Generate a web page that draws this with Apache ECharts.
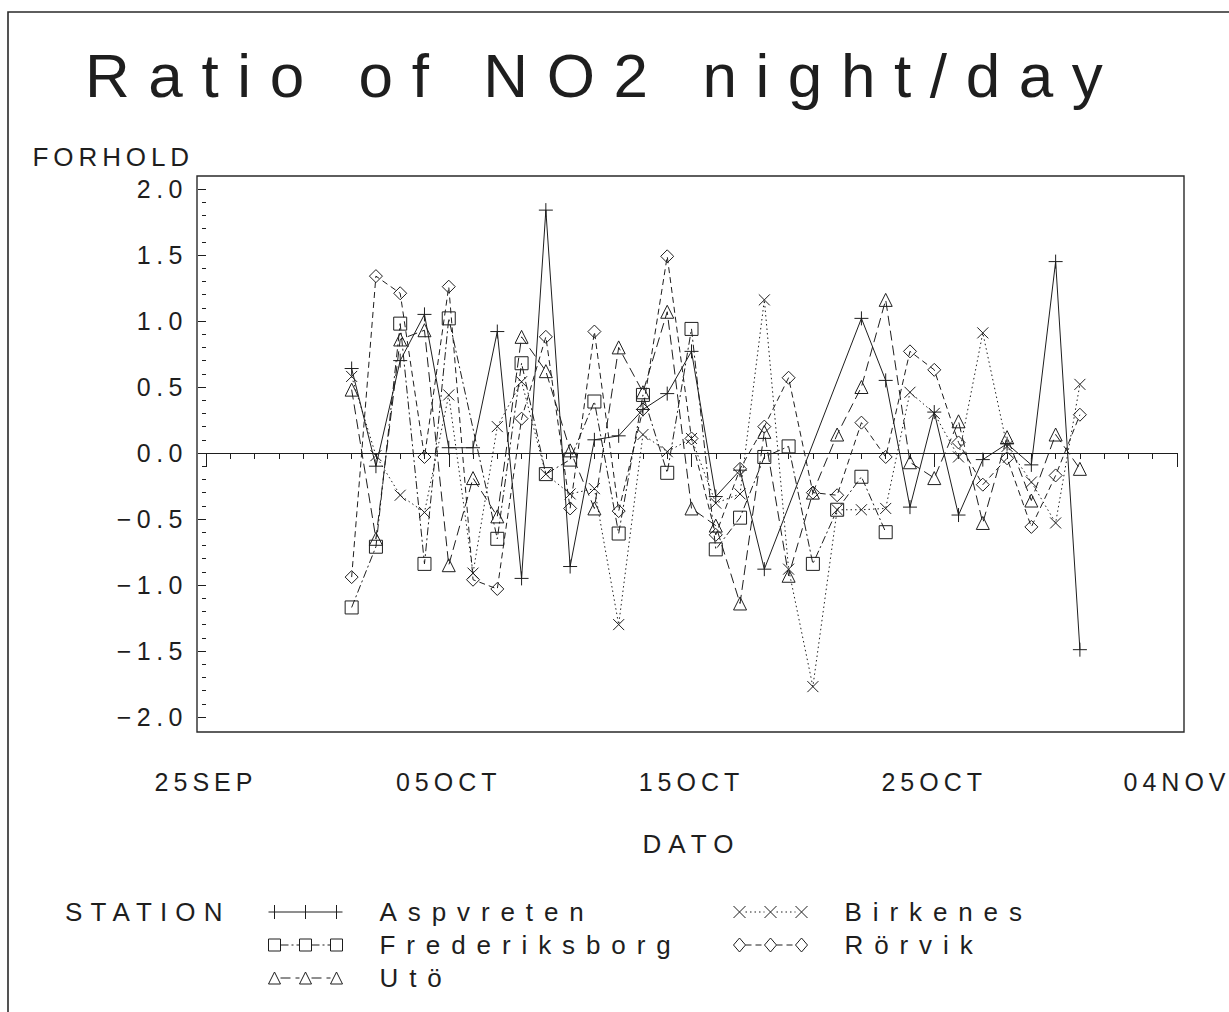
<!DOCTYPE html>
<html>
<head>
<meta charset="utf-8">
<script src="https://cdn.jsdelivr.net/npm/echarts@6/dist/echarts.min.js"></script>
<style>
html,body{margin:0;padding:0;background:#fff;}
#c{width:1229px;height:1012px;}
</style>
</head>
<body>
<div id="c"></div>
<script>
// ---------------- data ----------------
const titleText = 'Ratio of NO2 night/day';
const yName = 'FORHOLD';
const xName = 'DATO';
const legendTitle = 'STATION';
// day offset from 25SEP (01OCT = 6 ... 31OCT = 36)
const days = [6,7,8,9,10,11,12,13,14,15,16,17,18,19,20,21,22,23,24,25,26,27,28,29,30,31,32,33,34,35,36];
const xTickLabels = ['25SEP','05OCT','15OCT','25OCT','04NOV'];

const aspvreten     = [0.64,-0.10,0.70,1.05,0.04,0.04,0.92,-0.95,1.84,-0.86,0.10,0.13,0.33,0.45,0.77,-0.33,-0.13,-0.88,null,null,null,1.02,0.55,-0.41,0.31,-0.47,-0.05,0.07,-0.09,1.45,-1.49];
const frederiksborg = [-1.17,-0.71,0.98,-0.84,1.02,null,-0.65,0.68,-0.16,-0.05,0.39,-0.61,0.44,-0.15,0.94,-0.73,-0.49,-0.03,0.05,-0.84,-0.43,-0.18,-0.60,null,null,null,null,null,null,null,null];
const birkenes      = [0.58,-0.02,-0.32,-0.45,0.44,-0.91,0.20,0.54,-0.16,-0.31,-0.27,-1.30,0.14,0.01,0.11,-0.38,-0.31,1.16,-0.88,-1.77,-0.43,-0.43,-0.42,0.46,0.30,-0.03,0.91,0.05,-0.22,-0.53,0.52];
const rorvik        = [-0.94,1.34,1.21,-0.03,1.26,-0.96,-1.03,0.26,0.88,-0.42,0.92,-0.44,0.33,1.49,0.11,-0.62,-0.12,0.20,0.57,-0.30,-0.32,0.23,-0.03,0.77,0.63,0.08,-0.24,-0.04,-0.56,-0.17,0.29];
const uto           = [0.48,-0.65,0.86,0.93,-0.85,-0.19,-0.48,0.88,0.62,0.02,-0.42,0.80,0.46,1.07,-0.42,-0.55,-1.14,0.16,-0.93,-0.30,0.14,0.50,1.16,-0.07,-0.19,0.24,-0.53,0.12,-0.36,0.14,-0.12];

const stationNames = ['Aspvreten','Birkenes','Frederiksborg','Rörvik','Utö'];

// ---------------- styling ----------------
const INK = '#1e1e1e';
const FONT = "'Liberation Sans', Arial, sans-serif";

function dashes(x0, x1, y, pattern){
  let s = '', x = x0, k = 0;
  while (x < x1 - 0.01) {
    const len = pattern[k % pattern.length];
    const e = Math.min(x + len, x1);
    if (k % 2 === 0) s += 'M' + x.toFixed(1) + ',' + y + 'L' + e.toFixed(1) + ',' + y;
    x = e; k++;
  }
  return s;
}
const C = [6, 37, 68];
function between(pattern){ return dashes(12, 31, 7, pattern) + dashes(43, 62, 7, pattern); }
const DASH_FRED = [8, 3, 2, 3];
const DASH_BIRK = [1.5, 3];
const DASH_ROR = [6, 4];
const DASH_UTO = [10, 5];
const iconPlus = 'path://M0,7L74,7' + C.map(c => 'M'+c+',0L'+c+',14').join('');
const iconCross = 'path://' + C.map(c => 'M'+(c-6)+',1L'+(c+6)+',13M'+(c+6)+',1L'+(c-6)+',13').join('') + between(DASH_BIRK);
const iconSquare = 'path://' + C.map(c => 'M'+(c-6)+',1L'+(c+6)+',1L'+(c+6)+',13L'+(c-6)+',13Z').join('') + between(DASH_FRED);
const iconDiamond = 'path://' + C.map(c => 'M'+c+',0L'+(c+6)+',7L'+c+',14L'+(c-6)+',7Z').join('') + between(DASH_ROR);
const iconTri = 'path://' + C.map(c => 'M'+(c-6)+',13L'+c+',1L'+(c+6)+',13Z').join('') + between(DASH_UTO);

const SYM_PLUS = 'path://M5,0L5,10M0,5L10,5';
const SYM_CROSS = 'path://M0,0L10,10M10,0L0,10';

function mkSeries(name, values, symbol, size, dash, extra){
  const s = {
    name: name, type: 'line',
    data: days.map((d, i) => [d, values[i]]),
    symbol: symbol, symbolSize: size, showAllSymbol: true, connectNulls: true,
    itemStyle: { color: 'transparent', borderColor: INK, borderWidth: 1 },
    lineStyle: { color: INK, width: 1, type: dash },
    emphasis: { disabled: true },
    silent: true
  };
  return Object.assign(s, extra || {});
}

const legendCommon = {
  orient: 'vertical', top: 899, itemWidth: 74, itemHeight: 14, itemGap: 7,
  padding: 0, selectedMode: false, symbolKeepAspect: true,
  itemStyle: { color: 'transparent', borderColor: INK, borderWidth: 1 },
  textStyle: { fontSize: 26, fontFamily: FONT, color: INK, padding: [0, 0, 0, 32] }
};

const option = {
  animation: false,
  backgroundColor: '#ffffff',
  textStyle: { fontFamily: FONT, color: INK },
  title: [
    { text: titleText, left: 85, top: 44, padding: 0,
      textStyle: { fontSize: 62, fontWeight: 'normal', fontFamily: FONT, color: INK } },
    { text: legendTitle, left: 65, top: 899, padding: 0,
      textStyle: { fontSize: 26, fontWeight: 'normal', fontFamily: FONT, color: INK } }
  ],
  grid: { left: 206, right: 52, top: 189, bottom: 295 },
  xAxis: {
    type: 'value', min: 0, max: 40, interval: 10, offset: 15,
    name: xName, nameLocation: 'middle', nameGap: 99,
    nameTextStyle: { fontSize: 26, color: INK, fontFamily: FONT },
    axisLine: { show: true, lineStyle: { color: INK, width: 1 } },
    axisTick: { show: true, length: 14, lineStyle: { color: INK, width: 1 } },
    minorTick: { show: true, splitNumber: 10, length: 6, lineStyle: { color: INK, width: 1 } },
    axisLabel: { fontSize: 25, margin: 37, color: INK, fontFamily: FONT, showMinLabel: true, showMaxLabel: true,
      formatter: v => xTickLabels[Math.round(v / 10)] },
    splitLine: { show: false }
  },
  yAxis: {
    type: 'value', min: -2, max: 2, interval: 0.5, offset: 9,
    name: yName, nameLocation: 'end', nameGap: 32,
    nameTextStyle: { fontSize: 26, color: INK, fontFamily: FONT, align: 'right', verticalAlign: 'middle', padding: [0, 12, 0, 0] },
    axisLine: { show: false },
    axisTick: { show: true, length: 8, lineStyle: { color: INK, width: 1 } },
    minorTick: { show: true, splitNumber: 5, length: 4, lineStyle: { color: INK, width: 1 } },
    axisLabel: { fontSize: 25, margin: 9, color: INK, fontFamily: FONT,
      formatter: v => (v < 0 ? '\u2212' : '') + Math.abs(v).toFixed(1) },
    splitLine: { show: false }
  },
  legend: [
    Object.assign({}, legendCommon, { left: 268, data: [
      { name: 'Aspvreten', icon: iconPlus },
      { name: 'Frederiksborg', icon: iconSquare },
      { name: 'Utö', icon: iconTri } ] }),
    Object.assign({}, legendCommon, { left: 733, data: [
      { name: 'Birkenes', icon: iconCross },
      { name: 'Rörvik', icon: iconDiamond } ] })
  ],
  graphic: [
    { type: 'rect', silent: true, z: 10, shape: { x: 197, y: 176, width: 987, height: 556 },
      style: { fill: 'none', stroke: '#2a2a2a', lineWidth: 1.4 } },
    { type: 'rect', silent: true, z: 10, shape: { x: 8, y: 12, width: 1300, height: 1100 },
      style: { fill: 'none', stroke: '#2a2a2a', lineWidth: 1.6 } }
  ],
  series: [
    mkSeries('Aspvreten', aspvreten, SYM_PLUS, 14, 'solid', {
      markLine: { silent: true, symbol: 'none', label: { show: false },
        lineStyle: { color: INK, type: 'solid', width: 1.2 }, data: [{ yAxis: 0 }] }
    }),
    mkSeries('Frederiksborg', frederiksborg, 'rect', 13, DASH_FRED),
    mkSeries('Birkenes', birkenes, SYM_CROSS, 11, DASH_BIRK),
    mkSeries('Rörvik', rorvik, 'diamond', 13, DASH_ROR),
    mkSeries('Utö', uto, 'triangle', 13, DASH_UTO)
  ]
};

const chart = echarts.init(document.getElementById('c'), null, { renderer: 'svg' });
chart.setOption(option);

// letter spacing (em) per kind of text, to mimic the wide plotter lettering
function spacingFor(txt, fs){
  if (txt === titleText) return 0.30;
  if (stationNames.indexOf(txt) >= 0) return 0.42;
  if (txt === legendTitle) return 0.31;
  if (txt === yName) return 0.19;
  if (txt === xName) return 0.27;
  if (xTickLabels.indexOf(txt) >= 0) return 0.20;
  return 0.22;
}
function spaceText(){
  document.querySelectorAll('#c svg text').forEach(t => {
    const fs = parseFloat(getComputedStyle(t).fontSize) || 25;
    const k = spacingFor((t.textContent || '').trim(), fs);
    t.setAttribute('letter-spacing', (fs * k).toFixed(1));
  });
}
spaceText();
chart.on('finished', spaceText);
setTimeout(spaceText, 50);
</script>
</body>
</html>
